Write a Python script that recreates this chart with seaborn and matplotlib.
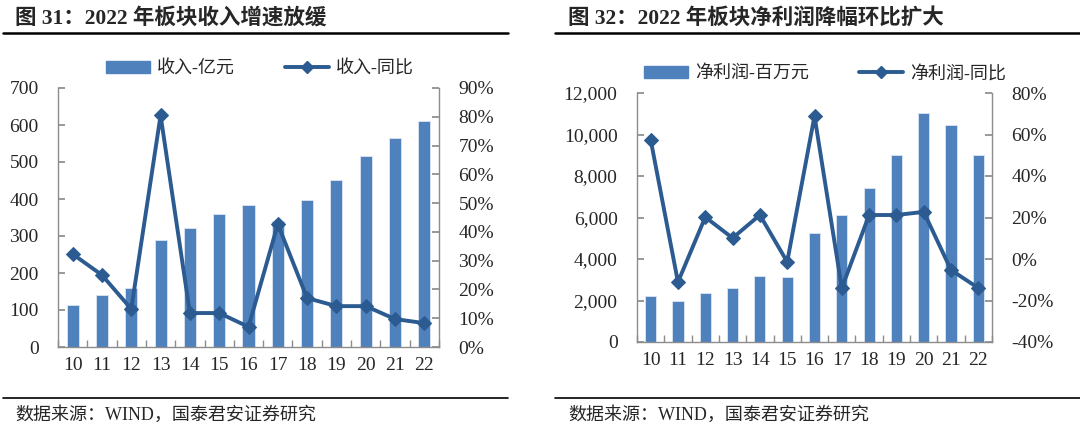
import matplotlib
matplotlib.use("Agg")
import matplotlib.pyplot as plt
import seaborn as sns
import numpy as np
import pandas as pd
from matplotlib.lines import Line2D
from matplotlib.ticker import FuncFormatter, MultipleLocator

sns.set_theme(style="white")
plt.rcParams['font.family'] = ['Liberation Serif', 'Noto Sans CJK SC']
plt.rcParams['axes.unicode_minus'] = False

years = ["10", "11", "12", "13", "14", "15", "16", "17", "18", "19", "20", "21", "22"]
revenue = [113, 140, 159, 289, 321, 359, 383, 340, 397, 451, 516, 564, 610]
revenue_yoy = [32.3, 25.0, 13.2, 80.5, 11.8, 11.8, 7.0, 42.7, 17.0, 14.2, 14.2, 9.7, 8.3]
profit = [2217, 1976, 2361, 2602, 3170, 3120, 5253, 6120, 7422, 9012, 11036, 10458, 9012]
profit_yoy = [57.5, -11.1, 20.2, 10.1, 21.2, -1.4, 68.9, -14.0, 21.2, 21.2, 22.7, -5.3, -14.0]

title_left = "图 31：2022 年板块收入增速放缓"
title_right = "图 32：2022 年板块净利润降幅环比扩大"
source = "数据来源：WIND，国泰君安证券研究"
bar_label_left, line_label_left = "收入-亿元", "收入-同比"
bar_label_right, line_label_right = "净利润-百万元", "净利润-同比"

BAR = "#4F81BD"
LINE = "#2B5B91"
AX = "#8C8C8C"
W, H = 1080, 433
TICK_FS = 14

fig = plt.figure(figsize=(W / 100, H / 100), dpi=100)


def panel(rect, bars, yoy, ylim, ystep, y2lim, y2step, fmt_left, blabel, llabel):
    ax = fig.add_axes(rect)
    df = pd.DataFrame({"year": years, "val": bars})
    sns.barplot(data=df, x="year", y="val", ax=ax, color=BAR, width=0.41,
                edgecolor="#DCE6F2", linewidth=0.6, saturation=1, label=blabel)
    ax.set_xlim(-0.5, len(years) - 0.5)
    ax.set_ylim(*ylim)
    ax.yaxis.set_major_locator(MultipleLocator(ystep))
    ax.yaxis.set_major_formatter(FuncFormatter(fmt_left))
    ax.set_xlabel("")
    ax.set_ylabel("")
    ax2 = ax.twinx()
    sns.lineplot(x=np.arange(len(years)), y=yoy, ax=ax2, color=LINE, linewidth=2.8,
                 marker="D", markersize=7, markeredgecolor=LINE, label=llabel, legend=False)
    ax2.set_ylim(*y2lim)
    ax2.yaxis.set_major_locator(MultipleLocator(y2step))
    ax2.yaxis.set_major_formatter(FuncFormatter(lambda v, p: f"{v:.0f}%"))
    for a in (ax, ax2):
        for s in a.spines.values():
            s.set_visible(False)
        a.grid(False)
    ax.spines['left'].set_visible(True)
    ax.spines['bottom'].set_visible(True)
    ax2.spines['right'].set_visible(True)
    for s in (ax.spines['left'], ax.spines['bottom'], ax2.spines['right']):
        s.set_color(AX)
        s.set_linewidth(1.0)
    ax.tick_params(axis='y', direction='in', length=5, color=AX, labelsize=TICK_FS, pad=14, left=True)
    ax2.tick_params(axis='y', direction='in', length=5, color=AX, labelsize=TICK_FS, pad=14, right=True)
    ax.tick_params(axis='x', length=0, labelsize=TICK_FS, pad=7)
    ax.set_xticks(np.arange(-0.5, len(years), 1.0), minor=True)
    ax.tick_params(axis='x', which='minor', direction='in', length=5, color=AX, bottom=True)
    handles = [plt.Rectangle((0, 0), 1, 1, color=BAR),
               Line2D([0], [0], color=LINE, lw=2.8, marker="D", markersize=6)]
    ax.legend(handles, [blabel, llabel], loc="lower center", bbox_to_anchor=(0.53, 1.0),
              ncol=2, frameon=False, fontsize=13, handlelength=2.4, columnspacing=2.8,
              handletextpad=0.4, borderaxespad=0.2)
    return ax, ax2


panel([58 / W, 1 - 347 / H, (439 - 58) / W, (347 - 88) / H], revenue, revenue_yoy,
      (0, 700), 100, (0, 90), 10, lambda v, p: f"{v:.0f}", bar_label_left, line_label_left)
panel([637 / W, 1 - 342 / H, (992 - 637) / W, (342 - 93) / H], profit, profit_yoy,
      (0, 12000), 2000, (-40, 80), 20, lambda v, p: f"{v:,.0f}", bar_label_right, line_label_right)

# titles, rules, sources
for x0, x1, tx, title in [(3, 508, 15, title_left), (555, 1080, 568, title_right)]:
    fig.text(tx / W, 1 - 18 / H, title, fontsize=15.5, fontweight="bold", va="center", ha="left")
    fig.add_artist(Line2D([x0 / W, x1 / W], [1 - 33 / H, 1 - 33 / H], color="black", lw=1.8))
    fig.add_artist(Line2D([x0 / W, x1 / W], [1 - 398 / H, 1 - 398 / H], color="black", lw=1.2))
    fig.text(tx / W, 1 - 415 / H, source, fontsize=13, va="center", ha="left")

fig.savefig("out.png", dpi=100)
